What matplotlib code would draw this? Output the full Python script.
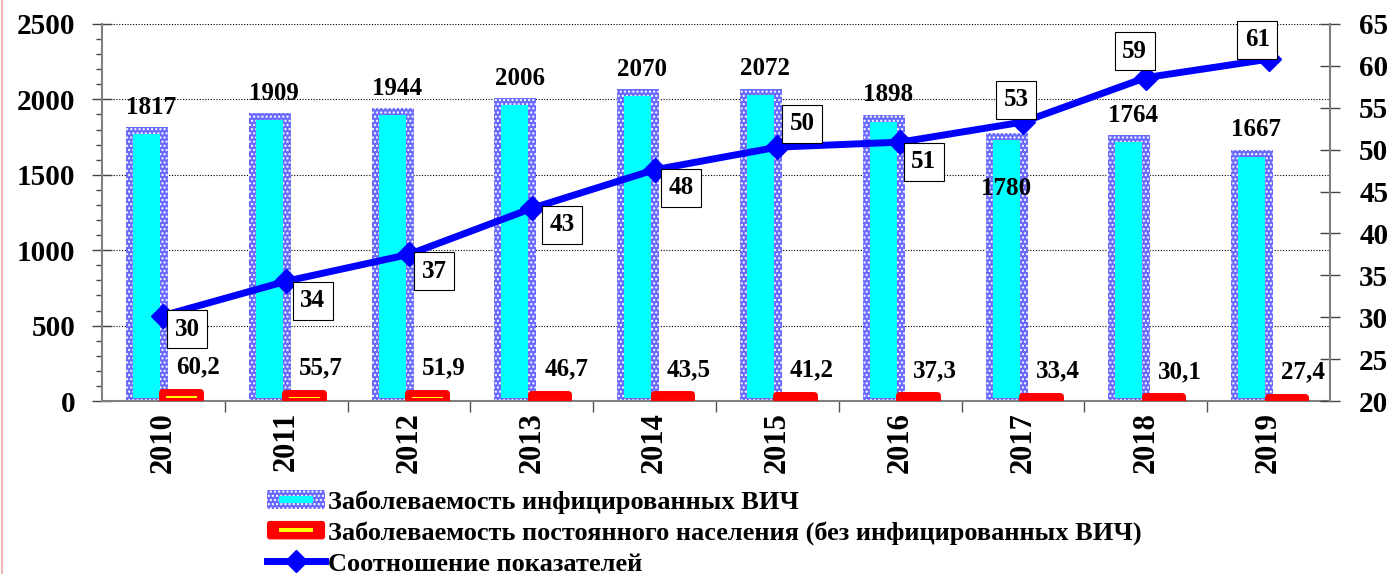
import matplotlib
matplotlib.use("Agg")
import matplotlib.pyplot as plt
import numpy as np
from matplotlib.patches import Rectangle, FancyBboxPatch
from matplotlib.lines import Line2D
from matplotlib.legend_handler import HandlerBase

plt.rcParams['font.family'] = ['Liberation Serif', 'DejaVu Serif']
plt.rcParams['font.weight'] = 'bold'

years = ['2010', '2011', '2012', '2013', '2014', '2015', '2016', '2017', '2018', '2019']
hiv_incidence = [1817, 1909, 1944, 2006, 2070, 2072, 1898, 1780, 1764, 1667]
pop_incidence = [60.2, 55.7, 51.9, 46.7, 43.5, 41.2, 37.3, 33.4, 30.1, 27.4]
pop_labels = ['60,2', '55,7', '51,9', '46,7', '43,5', '41,2', '37,3', '33,4', '30,1', '27,4']
ratio = [30.2, 34.3, 37.5, 43.0, 47.6, 50.3, 50.9, 53.3, 58.6, 60.8]
ratio_labels = ['30', '34', '37', '43', '48', '50', '51', '53', '59', '61']
legend_labels = ['Заболеваемость инфицированных ВИЧ',
                 'Заболеваемость постоянного населения (без инфицированных ВИЧ)',
                 'Соотношение показателей']

# label offsets (points) for ratio boxes
ratio_off = [(17, -10), (19, -14), (18, -12), (22, -12), (19, -13),
             (18, 17), (17, -14), (-5, 16), (-8, 19), (-8, 14)]

W, H = 1390, 574
fig = plt.figure(figsize=(W / 100, H / 100), dpi=100)
ax = fig.add_axes([102 / W, 1 - 401 / H, (1330 - 102) / W, (401 - 24) / H])
ax2 = ax.twinx()

x = np.arange(len(years))
BLUE_H = '#6a6aff'
CYAN = '#00ffff'
RED = '#ff0000'
FS = 18

# outer hatched bar
ax.bar(x - 0.134, hiv_incidence, width=0.342, color=BLUE_H, edgecolor='white',
       linewidth=0, hatch='....', zorder=2)
# inner cyan bar
inner_top = [v - 46 for v in hiv_incidence]
ax.bar(x - 0.138, [t - 22 for t in inner_top], bottom=22, width=0.22, color=CYAN,
       linewidth=0, zorder=3)
# red bars
ax.bar(x + 0.145, pop_incidence, width=0.305, color='#ffff00', edgecolor=RED,
       linewidth=5, joinstyle='round', zorder=4)

ax.set_xlim(-0.5, len(years) - 0.5)
ax.set_ylim(0, 2500)
ax2.set_ylim(20, 65)

# labels for cyan bars
for i, v in enumerate(hiv_incidence):
    if years[i] == '2017':
        ax.annotate(str(v), (i - 0.134, v), xytext=(0, -40), textcoords='offset points',
                    ha='center', va='center', fontsize=FS, fontweight='bold', zorder=6)
    else:
        ax.annotate(str(v), (i - 0.134, v), xytext=(3, 6), textcoords='offset points',
                    ha='center', va='bottom', fontsize=FS, fontweight='bold', zorder=6)

# labels for red bars
for i, (v, lab) in enumerate(zip(pop_incidence, pop_labels)):
    ax.annotate(lab, (i + 0.145, v), xytext=(12, 18), textcoords='offset points',
                ha='center', va='center', fontsize=FS, fontweight='bold', zorder=6)

# ratio line
ax2.plot(x, ratio, color='#0000ff', lw=5, marker='D', markersize=12,
         markeredgecolor='#0000ff', zorder=5)
for i, (v, lab) in enumerate(zip(ratio, ratio_labels)):
    ax2.annotate(lab, (i, v), xytext=ratio_off[i], textcoords='offset points',
                 ha='center', va='center', fontsize=FS, fontweight='bold', zorder=7,
                 bbox=dict(boxstyle='square,pad=0.3', fc='white', ec='black', lw=0.8))

# grid
ax.set_yticks(np.arange(0, 2501, 500))
ax.set_yticks(np.arange(0, 2501, 100), minor=True)
ax.yaxis.grid(True, which='major', linestyle=(0, (1, 1.5)), color='black', lw=0.8)
ax.set_axisbelow(True)

ax2.set_yticks(np.arange(20, 66, 5))

# x ticks: boundaries (major, no labels), centers (minor, labels)
ax.set_xticks(np.arange(0.5, len(years) - 0.5, 1))
ax.set_xticklabels([])
ax.set_xticks(x, minor=True)
ax.set_xticklabels(years, minor=True, rotation=90, fontsize=22, fontweight='bold')
ax.tick_params(axis='x', which='major', direction='out', length=8, width=1, color='#555555')
ax.tick_params(axis='x', which='minor', length=0, pad=8)

ax.tick_params(axis='y', which='major', direction='inout', length=14, width=1,
               color='#444444', labelsize=21, pad=12)
ax.tick_params(axis='y', which='minor', direction='out', length=4, width=1, color='#444444')
ax2.tick_params(axis='y', which='major', direction='inout', length=14, width=1,
                color='#444444', labelsize=21, pad=14)
for a in (ax, ax2):
    for lbl in a.get_yticklabels():
        lbl.set_fontweight('bold')

for a in (ax, ax2):
    a.spines['top'].set_visible(False)
    for s in ('left', 'right', 'bottom'):
        a.spines[s].set_color('#808080')
        a.spines[s].set_linewidth(1.5)
ax2.spines['left'].set_visible(False)
ax2.spines['bottom'].set_visible(False)
ax.spines['right'].set_visible(False)


# legend handlers
class HatchHandler(HandlerBase):
    def create_artists(self, legend, orig_handle, xdescent, ydescent, width, height,
                       fontsize, trans):
        outer = Rectangle((-xdescent, -ydescent), width, height, facecolor=BLUE_H,
                          edgecolor='white', linewidth=0, hatch='....', transform=trans)
        inner = Rectangle((-xdescent + width * 0.2, -ydescent + height * 0.3),
                          width * 0.6, height * 0.4, facecolor=CYAN, linewidth=0,
                          transform=trans)
        return [outer, inner]


class RedHandler(HandlerBase):
    def create_artists(self, legend, orig_handle, xdescent, ydescent, width, height,
                       fontsize, trans):
        outer = FancyBboxPatch((-xdescent + 2, -ydescent + 2), width - 4, height - 4,
                               boxstyle='round,pad=2', facecolor=RED, edgecolor=RED,
                               linewidth=0, transform=trans)
        inner = Rectangle((-xdescent + width * 0.2, -ydescent + height * 0.38),
                          width * 0.6, height * 0.24, facecolor='#ffff00', linewidth=0,
                          transform=trans)
        return [outer, inner]


h1 = Rectangle((0, 0), 1, 1)
h2 = FancyBboxPatch((0, 0), 1, 1)
h3 = Line2D([], [], color='#0000ff', lw=5, marker='D', markersize=11)
fig.legend([h1, h2, h3], legend_labels,
           handler_map={Rectangle: HatchHandler(), FancyBboxPatch: RedHandler()},
           loc='upper left', bbox_to_anchor=(267 / W, 1 - 490 / H), frameon=False,
           prop={'family': ['Liberation Serif'], 'weight': 'bold', 'size': 19},
           handlelength=2.2, handleheight=0.7, handletextpad=0.1, labelspacing=0.28,
           borderpad=0, borderaxespad=0)

fig.add_artist(Line2D([0.0012, 0.0012], [0, 1], color='#f0b4b4', lw=1.5,
                      transform=fig.transFigure))

fig.savefig('out.png', dpi=100)
